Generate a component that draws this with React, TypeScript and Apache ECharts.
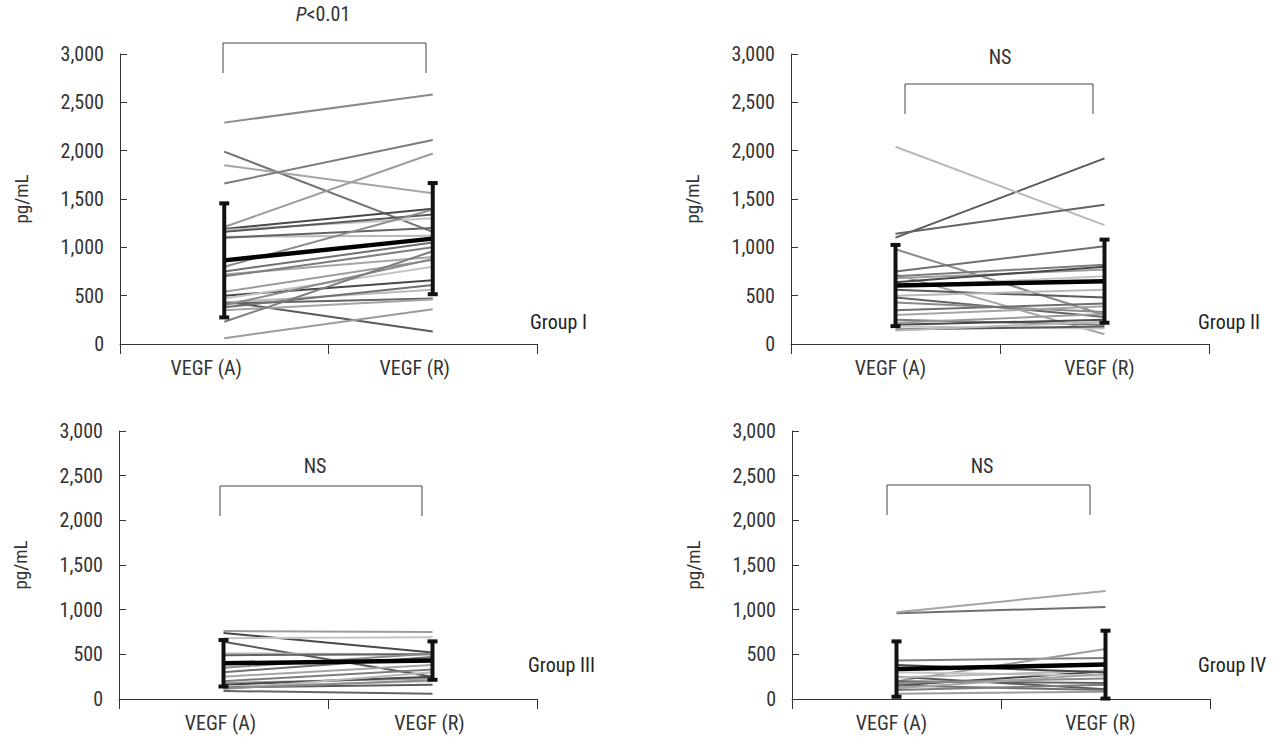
import React, { useEffect, useRef } from 'react';
import * as echarts from 'echarts';

const categories = ['VEGF (A)', 'VEGF (R)'];
const groupNames = ['Group I', 'Group II', 'Group III', 'Group IV'];
const yTicks = [0, 500, 1000, 1500, 2000, 2500, 3000];

const group1A = [2290, 1990, 1850, 1660, 1210, 1190, 1180, 1160, 1110, 1100, 800, 750, 720, 700, 540, 500, 470, 440, 430, 420, 400, 380, 350, 230, 60];
const group1R = [2580, 1160, 1560, 2110, 1970, 1400, 1300, 1340, 1120, 1200, 1390, 1050, 900, 1000, 870, 660, 800, 130, 560, 470, 880, 610, 460, 960, 360];
const group1Mean = [865, 1090];
const group1SD = [590, 575];

const group2A = [1100, 2040, 1140, 980, 750, 720, 700, 680, 640, 600, 560, 500, 480, 430, 350, 300, 250, 220, 200, 180, 150, 140];
const group2R = [1920, 1230, 1440, 300, 1010, 100, 820, 770, 800, 700, 480, 560, 280, 330, 420, 390, 200, 310, 250, 160, 180, 230];
const group2Mean = [605, 650];
const group2SD = [420, 430];

const group3A = [760, 740, 680, 640, 510, 490, 350, 300, 250, 200, 180, 160, 140, 130, 110, 90, 120];
const group3R = [750, 520, 690, 250, 500, 500, 510, 470, 380, 330, 230, 250, 200, 160, 300, 60, 210];
const group3Mean = [400, 430];
const group3SD = [260, 215];

const group4A = [960, 970, 430, 200, 150, 300, 250, 240, 200, 180, 150, 120, 100, 60, 380];
const group4R = [1030, 1210, 460, 560, 310, 260, 110, 320, 180, 230, 100, 280, 160, 80, 300];
const group4Mean = [335, 385];
const group4SD = [310, 380];

const groups = [
  { a: group1A, r: group1R, mean: group1Mean, sd: group1SD },
  { a: group2A, r: group2R, mean: group2Mean, sd: group2SD },
  { a: group3A, r: group3R, mean: group3Mean, sd: group3SD },
  { a: group4A, r: group4R, mean: group4Mean, sd: group4SD },
];

const FONT = "'Roboto Condensed', 'Liberation Sans Narrow', 'DejaVu Sans Condensed', Roboto, sans-serif";
const shades = ['#8a8a8a', '#5a5a5a', '#9c9c9c', '#707070', '#b8b8b8', '#484848', '#a5a5a5', '#646464', '#c4c4c4', '#7d7d7d'];

const grids = [
  { left: 120, top: 54, width: 417, height: 290 },
  { left: 791, top: 54, width: 418, height: 290 },
  { left: 119, top: 431, width: 418, height: 268 },
  { left: 792, top: 431, width: 418, height: 268 },
];
const xLabelShiftPad = [36, 10, 6, 10];

const brackets = [
  { x1: 223, x2: 426, y: 43, drop: 30, tx: 323, ty: 14, p: true },
  { x1: 905, x2: 1093, y: 84, drop: 30, tx: 1000, ty: 57, p: false },
  { x1: 220, x2: 422, y: 486, drop: 30, tx: 315, ty: 466, p: false },
  { x1: 887, x2: 1090, y: 485, drop: 30, tx: 982, ty: 466, p: false },
];

const groupLabelPos = [
  { x: 530, y: 322 },
  { x: 1198, y: 322 },
  { x: 528, y: 665 },
  { x: 1198, y: 665 },
];

export default function App() {
  const ref = useRef<HTMLDivElement>(null);
  useEffect(() => {
    if (!ref.current) return;
    const chart = echarts.init(ref.current, undefined, { renderer: 'svg' });

    const xAxis = grids.map((_, i) => ({
      type: 'category',
      gridIndex: i,
      data: categories,
      boundaryGap: true,
      axisLine: { lineStyle: { color: '#333', width: 1 } },
      axisTick: { show: true, length: 10, lineStyle: { color: '#333' } },
      axisLabel: {
        color: '#333', fontSize: 20, fontFamily: FONT, margin: 14,
        padding: [0, xLabelShiftPad[i], 0, 0],
      },
      splitLine: { show: false },
    }));
    const yAxis = grids.map((_, i) => ({
      type: 'value',
      gridIndex: i,
      min: yTicks[0],
      max: yTicks[yTicks.length - 1],
      interval: 500,
      name: 'pg/mL',
      nameLocation: 'middle',
      nameGap: 89,
      nameRotate: 90,
      nameTextStyle: { color: '#333', fontSize: 19, fontFamily: FONT },
      axisLine: { show: true, lineStyle: { color: '#333', width: 1 } },
      axisTick: { show: true, inside: true, length: 7, lineStyle: { color: '#333' } },
      axisLabel: {
        color: '#333', fontSize: 20, fontFamily: FONT, margin: 16,
        formatter: (v: number) => v.toLocaleString('en-US'),
      },
      splitLine: { show: false },
    }));

    const series: any[] = [];
    groups.forEach((g, i) => {
      g.a.forEach((av, j) => {
        series.push({
          type: 'line',
          xAxisIndex: i,
          yAxisIndex: i,
          data: [av, g.r[j]],
          symbol: 'none',
          silent: true,
          z: 2,
          lineStyle: { color: shades[(j * 3 + i) % shades.length], width: 2 },
        });
      });
      series.push({
        type: 'line',
        xAxisIndex: i,
        yAxisIndex: i,
        data: g.mean,
        symbol: 'none',
        silent: true,
        z: 5,
        lineStyle: { color: '#000', width: 4.5 },
      });
      series.push({
        type: 'custom',
        xAxisIndex: i,
        yAxisIndex: i,
        z: 6,
        silent: true,
        data: g.mean.map((m, j) => [j, m - g.sd[j], m + g.sd[j]]),
        renderItem: (params: any, api: any) => {
          const lo = api.coord([api.value(0), api.value(1)]);
          const hi = api.coord([api.value(0), api.value(2)]);
          const w = 5;
          const st = { stroke: '#111', lineWidth: 4 };
          return {
            type: 'group',
            children: [
              { type: 'line', shape: { x1: lo[0], y1: lo[1], x2: hi[0], y2: hi[1] }, style: st },
              { type: 'line', shape: { x1: lo[0] - w, y1: lo[1], x2: lo[0] + w, y2: lo[1] }, style: st },
              { type: 'line', shape: { x1: hi[0] - w, y1: hi[1], x2: hi[0] + w, y2: hi[1] }, style: st },
            ],
          };
        },
      });
    });

    const graphic: any[] = [];
    brackets.forEach((b) => {
      graphic.push({
        type: 'polyline',
        shape: { points: [[b.x1, b.y + b.drop], [b.x1, b.y], [b.x2, b.y], [b.x2, b.y + b.drop]] },
        style: { stroke: '#444', lineWidth: 1, fill: 'none' },
      });
      graphic.push({
        type: 'text',
        x: b.tx,
        y: b.ty,
        style: b.p
          ? {
              text: '{i|P}{n|<0.01}',
              rich: {
                i: { fontStyle: 'italic', fontSize: 20, fontFamily: FONT, fill: '#333' },
                n: { fontSize: 20, fontFamily: FONT, fill: '#333' },
              },
              align: 'center',
              verticalAlign: 'middle',
            }
          : { text: 'NS', fontSize: 20, fontFamily: FONT, fill: '#333', align: 'center', verticalAlign: 'middle' },
      });
    });
    groupNames.forEach((n, i) => {
      graphic.push({
        type: 'text',
        x: groupLabelPos[i].x,
        y: groupLabelPos[i].y,
        style: { text: n, fontSize: 20, fontFamily: FONT, fill: '#222', align: 'left', verticalAlign: 'middle' },
      });
    });

    chart.setOption({
      animation: false,
      backgroundColor: '#fff',
      grid: grids,
      xAxis,
      yAxis,
      series,
      graphic,
    });
    return () => chart.dispose();
  }, []);
  return <div ref={ref} style={{ position: 'absolute', left: 0, top: 0, width: 1277, height: 739 }} />;
}
